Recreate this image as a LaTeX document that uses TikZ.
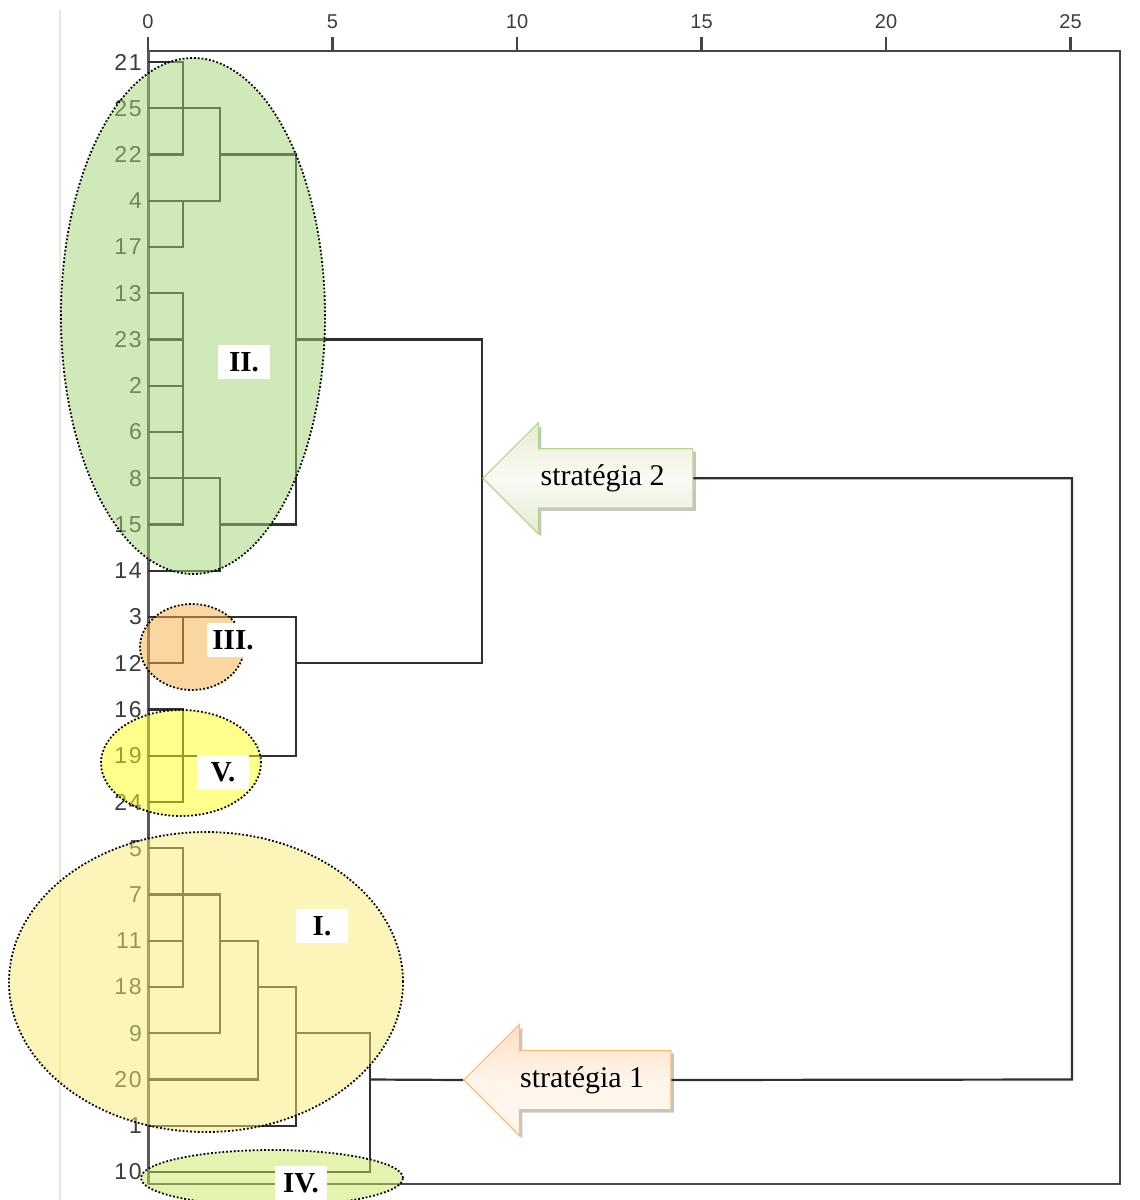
\documentclass[tikz,border=0pt]{standalone}
\usepackage{fontspec}
\setmainfont{Liberation Serif}
\newfontfamily\leaffont[LetterSpace=8]{Liberation Sans}
\newfontfamily\axisfont{Liberation Sans}
\usetikzlibrary{shapes.arrows, shapes.geometric, shadows}

\definecolor{treegray}{HTML}{303030}
\definecolor{labgray}{HTML}{3C3C3C}
\definecolor{edgebeige}{HTML}{EDE4D8}
\definecolor{grpI}{HTML}{F7EB73}
\definecolor{grpII}{HTML}{A0D474}
\definecolor{grpIII}{HTML}{F5AF41}
\definecolor{grpIV}{HTML}{CBE761}
\definecolor{grpV}{HTML}{FFFF19}

\tikzset{
    tree/.style={draw=treegray, line width=2.2pt},
    frame/.style={draw=treegray!90, line width=2.2pt},
    leaf/.style={anchor=east, inner sep=0pt, text=labgray, font=\leaffont\fontsize{23}{23}\selectfont},
    tickl/.style={inner sep=0pt, text=labgray, font=\axisfont\fontsize{20}{20}\selectfont},
    group/.style={ellipse, draw=black, dotted, line width=1.8pt, fill opacity=.5, inner sep=0pt},
    tag/.style={fill=white, inner xsep=4pt, inner ysep=6pt, minimum width=52pt,
        text height=20pt, text depth=2pt, font=\bfseries\fontsize{29}{29}\selectfont},
    strat/.style={single arrow, shape border rotate=180, single arrow tip angle=90,
        single arrow head extend=26pt, inner xsep=6pt, inner ysep=15pt,
        text height=21pt, text depth=7pt, line width=1.2pt, font=\fontsize{30}{30}\selectfont,
        drop shadow={shadow xshift=3pt, shadow yshift=-3pt, fill=black!45, opacity=.5}},
}

\begin{document}
\begin{tikzpicture}[x=1pt, y=-1pt]
    \useasboundingbox (0,0) rectangle (1140,1200);
    \draw[draw=edgebeige, line width=1.2pt] (60,10) -- (60,1200);

    % axis and frame
    \draw[frame] (148,51) -- (1120,51) -- (1120,1184) -- (148,1184);
    \draw[draw=treegray!80, line width=3pt] (148,51) -- (148,1184);
    \foreach \v in {0,5,...,25} {
        \draw[frame] ({148+36.9*\v},37) -- ({148+36.9*\v},51);
        \node[tickl] (t\v) at ({148+36.9*\v},22) {\v};
    }

    % leaves
    \foreach \lab [count=\i from 0] in {21,25,22,4,17,13,23,2,6,8,15,14,3,12,16,19,24,5,7,11,18,9,20,1,10} {
        \node[leaf] (n\lab) at (142,{62+\i*46.25}) {\lab};
        \coordinate (l\lab) at (148,{62+\i*46.25});
    }
    \coordinate (c1) at (183,0);
    \coordinate (c2) at (220,0);
    \coordinate (c3) at (258,0);
    \coordinate (c4) at (296,0);
    \coordinate (c6) at (370,0);
    \coordinate (c9) at (482,0);
    \coordinate (c25) at (1072,0);

    % dendrogram
    \draw[tree] (l21) -- (l21 -| c1) -- (l22 -| c1) -- (l22);
    \draw[tree] (l25) -- (l25 -| c2) -- (l4 -| c2) -- (l4);
    \draw[tree] (l4 -| c1) -- (l17 -| c1) -- (l17);
    \draw[tree] (l22 -| c2) -- (l22 -| c4) -- (l15 -| c4) -- (l15 -| c2);
    \draw[tree] (l13) -- (l13 -| c1) -- (l15 -| c1) -- (l15);
    \foreach \k in {23,2,6}
        \draw[tree] (l\k) -- (l\k -| c1);
    \draw[tree] (l8) -- (l8 -| c2) -- (l14 -| c2) -- (l14);
    \draw[tree] (l23 -| c4) -- (l23 -| c9) -- (l12 -| c9) -- (l12 -| c4);
    \draw[tree] (l3) -- (l3 -| c4) -- (l19 -| c4) -- (l19);
    \draw[tree] (l3 -| c1) -- (l12 -| c1) -- (l12);
    \draw[tree] (l16) -- (l16 -| c1) -- (l24 -| c1) -- (l24);
    \draw[tree] (l5) -- (l5 -| c1) -- (l18 -| c1) -- (l18);
    \draw[tree] (l11) -- (l11 -| c1);
    \draw[tree] (l7) -- (l7 -| c2) -- (l9 -| c2) -- (l9);
    \draw[tree] (l11 -| c2) -- (l11 -| c3) -- (l20 -| c3) -- (l20);
    \draw[tree] (l18 -| c3) -- (l18 -| c4) -- (l1 -| c4) -- (l1);
    \draw[tree] (l9 -| c4) -- (l9 -| c6) -- (l10 -| c6) -- (l10);

    % groups
    \node[group, fill=grpII, minimum width=264pt, minimum height=516pt] (gII) at (193,316) {};
    \node[group, fill=grpIII, minimum width=104pt, minimum height=86pt] (gIII) at (192,647) {};
    \node[group, fill=grpV, minimum width=160pt, minimum height=106pt] (gV) at (181,763) {};
    \node[group, fill=grpI, minimum width=394pt, minimum height=300pt] (gI) at (206,982) {};
    \node[group, fill=grpIV, minimum width=262pt, minimum height=56pt] (gIV) at (272,1178) {};
    \node[tag] (tII) at (244,362) {II.};
    \node[tag] (tIII) at (233,640) {III.};
    \node[tag] (tV) at (223,772) {V.};
    \node[tag] (tI) at (322,926) {I.};
    \node[tag] (tIV) at (301,1183) {IV.};

    % strategies
    \node[strat, anchor=tip, minimum height=210pt, draw=green!35!olive!45, top color=green!8!olive!17,
        bottom color=green!8!olive!17, middle color=green!3!olive!4] (s2) at (l8 -| c9) {stratégia 2};
    \node[strat, anchor=tip, minimum height=207pt, draw=orange!55, top color=orange!25,
        bottom color=orange!6, middle color=orange!8] (s1) at (463,1080) {stratégia 1};
    \draw[tree] (l20 -| c6) -- (s1.tip);
    \draw[tree] (s1.tail) -- (l20 -| c25) -- (l8 -| c25) -- (s2.tail);
\end{tikzpicture}
\end{document}
